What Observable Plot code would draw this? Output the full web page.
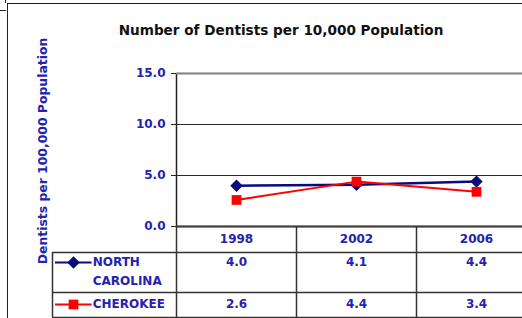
<!DOCTYPE html>
<html><head><meta charset="utf-8">
<script src="https://cdn.jsdelivr.net/npm/d3@7"></script>
<script src="https://cdn.jsdelivr.net/npm/@observablehq/plot@0.6"></script>
<style>
html,body{margin:0;padding:0;background:#fff;}
#wrap{position:relative;width:522px;height:318px;overflow:hidden;background:#fff;font-family:"DejaVu Sans",Verdana,sans-serif;}
#wrap svg{position:absolute;left:0;top:0;max-width:none !important;width:536px !important;height:318px !important;}
.frame{position:absolute;left:7px;top:3px;width:600px;height:400px;border-left:1.5px solid #222;border-top:1.5px solid #222;}
.tick1{position:absolute;left:0;top:10px;width:6px;height:0;border-top:1.5px solid #222;}
.tick2{position:absolute;left:5px;top:0;width:0;height:3px;border-left:1.5px solid #222;}
#title{position:absolute;left:0;width:562px;top:22px;text-align:center;font-weight:bold;font-size:13.6px;color:#111;white-space:nowrap;}
#ylab{position:absolute;left:42px;top:151px;transform:translate(-50%,-50%) rotate(-90deg);font-weight:bold;font-size:12.4px;color:#2323b0;white-space:nowrap;}
</style></head><body><div id="wrap"><div class="frame"></div><div class="tick1"></div><div class="tick2"></div><div id="title"></div><div id="ylab"></div></div>
<script>
// ---- data ----
const years = ["1998", "2002", "2006"];
const seriesNames = ["NORTH CAROLINA", "CHEROKEE"];
const northCarolina = [4.0, 4.1, 4.4];
const cherokee = [2.6, 4.4, 3.4];
const yTicks = [0, 5, 10, 15];
const titleText = "Number of Dentists per 10,000 Population";
const yLabelText = "Dentists per 100,000 Population";
const legendLabels = [["NORTH", "CAROLINA"], ["CHEROKEE"]];

// ---- styles ----
const BLUE_TEXT = "#2323b0";
const colors = {"NORTH CAROLINA": "#0b0b7d", "CHEROKEE": "#ff0000"};
const symbols = {"NORTH CAROLINA": "diamond2", "CHEROKEE": "square"};
const radii = {"NORTH CAROLINA": 5.6, "CHEROKEE": 5.5};
const FONT = "DejaVu Sans, Verdana, sans-serif";

document.getElementById("title").textContent = titleText;
document.getElementById("ylab").textContent = yLabelText;

const seriesValues = [northCarolina, cherokee];
const rows = seriesNames.flatMap((s, si) => years.map((y, i) => ({series: s, si, year: y, yi: i, value: seriesValues[si][i]})));

const wrap = document.getElementById("wrap");

// ---- main chart ----
const chart = Plot.plot({
  width: 536, height: 318,
  marginLeft: 176, marginRight: 0, marginTop: 73, marginBottom: 92,
  style: {background: "transparent", fontFamily: FONT, overflow: "visible", maxWidth: "none"},
  x: {type: "band", domain: years, padding: 0, axis: null},
  y: {domain: [0, 15], axis: null},
  marks: [
    Plot.frame({stroke: "#222", strokeWidth: 1.5}),
    Plot.ruleY([15], {stroke: "#8a8a8a", strokeWidth: 1.5}),
    Plot.ruleY([5, 10], {stroke: "#2a2a2a", strokeWidth: 1.2}),
    Plot.ruleY([0], {stroke: "#444", strokeWidth: 2}),
    Plot.axisY(yTicks, {tickSize: 5, tickPadding: 6, stroke: "#222", tickFormat: d => d.toFixed(1), fill: BLUE_TEXT, fontWeight: "bold", fontSize: 12, label: null}),
    ...seriesNames.map(s => Plot.line(rows.filter(r => r.series === s), {x: "year", y: "value", stroke: colors[s], strokeWidth: s === "CHEROKEE" ? 2 : 2.5})),
    ...seriesNames.map(s => Plot.dot(rows.filter(r => r.series === s), {x: "year", y: "value", symbol: symbols[s], fill: colors[s], r: radii[s]}))
  ]
});
wrap.appendChild(chart);

// ---- data table below the chart ----
// x: column units (legend column spans [-legendColWidth, 0], year columns 0..3)
// y: row units, top to bottom (header row [0, headerH], NC row next 2 units, Cherokee row after)
const legendColWidth = 124 / 120;
const headerH = 1.3;
const rowEdges = [headerH, headerH + 2, headerH + 3.25];
const rowCenter = {"NORTH CAROLINA": headerH + 0.5, "CHEROKEE": headerH + 2.6};
const legendItems = seriesNames.flatMap((s, si) => legendLabels[si].map((t, li) => ({series: s, text: t, y: rowCenter[s] + li * 0.95})));
const table = Plot.plot({
  width: 536, height: 318,
  marginLeft: 176, marginRight: 0, marginTop: 226, marginBottom: 1,
  style: {background: "transparent", fontFamily: FONT, overflow: "visible", maxWidth: "none"},
  x: {domain: [0, 3], axis: null},
  y: {domain: [0, rowEdges[2]], reverse: true, axis: null},
  marks: [
    Plot.ruleX([0, 1, 2], {y1: 0, y2: rowEdges[2], stroke: "#333", strokeWidth: 1.5}),
    Plot.ruleX([-legendColWidth], {y1: rowEdges[0], y2: rowEdges[2], stroke: "#333", strokeWidth: 1.5}),
    Plot.ruleY(rowEdges, {x1: -legendColWidth, x2: 3, stroke: "#333", strokeWidth: 1.5}),
    Plot.text(years, {x: (d, i) => i + 0.5, y: headerH / 2, text: d => d, fill: BLUE_TEXT, fontWeight: "bold", fontSize: 12}),
    Plot.text(rows, {x: d => d.yi + 0.5, y: d => rowCenter[d.series], text: d => d.value.toFixed(1), fill: BLUE_TEXT, fontWeight: "bold", fontSize: 12}),
    ...seriesNames.map(s => Plot.ruleY([rowCenter[s]], {x1: -legendColWidth + 0.025, x2: -legendColWidth + 0.33, stroke: colors[s], strokeWidth: 2})),
    ...seriesNames.map(s => Plot.dot([rowCenter[s]], {x: -legendColWidth + 0.175, y: d => d, symbol: symbols[s], fill: colors[s], r: radii[s]})),
    Plot.text(legendItems, {x: -legendColWidth + 0.335, y: "y", text: "text", textAnchor: "start", fill: BLUE_TEXT, fontWeight: "bold", fontSize: 12})
  ]
});
wrap.appendChild(table);
</script>
</body></html>
